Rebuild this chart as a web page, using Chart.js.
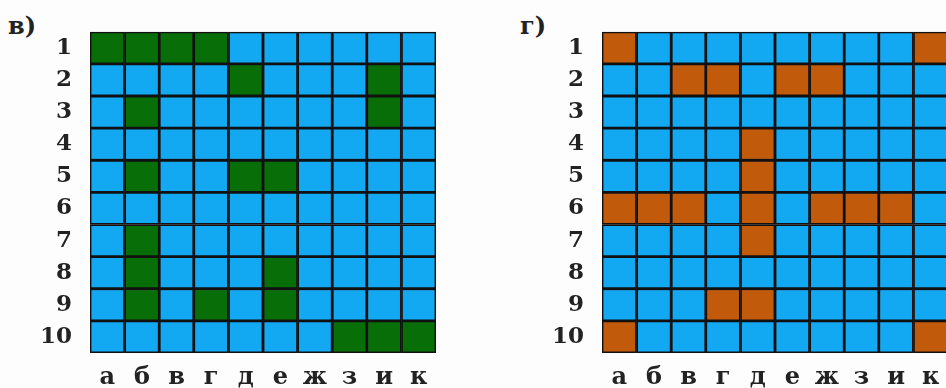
<!DOCTYPE html>
<html>
<head>
<meta charset="utf-8">
<script src="https://cdn.jsdelivr.net/npm/chart.js@4.4.0/dist/chart.umd.min.js"></script>
<style>
  body { margin: 0; width: 946px; height: 388px; overflow: hidden; background: #fdfdfd; position: relative; }
  canvas { position: absolute; top: 0; }
  .tag { position: absolute; font: bold 24px "DejaVu Serif", serif; color: #222; line-height: 28px; }
</style>
</head>
<body>
<div class="tag" style="left:8px;top:12px">в)</div>
<canvas id="chartV" width="446" height="388" style="left:0px"></canvas>
<div class="tag" style="left:520px;top:12px">г)</div>
<canvas id="chartG" width="446" height="388" style="left:512px"></canvas>
<script>
const letters = ['а', 'б', 'в', 'г', 'д', 'е', 'ж', 'з', 'и', 'к'];
const rows = [1, 2, 3, 4, 5, 6, 7, 8, 9, 10];
// 1 = закрашенная клетка, по строкам 1..10
const cellsV = [
  '1111000000',
  '0000100010',
  '0100000010',
  '0000000000',
  '0100110000',
  '0000000000',
  '0100000000',
  '0100010000',
  '0101010000',
  '0000000111'
];
const cellsG = [
  '1000000001',
  '0011011000',
  '0000000000',
  '0000100000',
  '0000100000',
  '1110101110',
  '0000100000',
  '0000000000',
  '0001100000',
  '1000000001'
];

const blue = '#12a8f2';
const green = '#086e08';
const orange = '#c25a0c';

function makeChart(id, cells, color, top) {
  const datasets = rows.map((r, i) => ({
    label: 'ряд ' + r,
    data: letters.map(() => [r - 0.5, r + 0.5]),
    backgroundColor: letters.map((l, j) => cells[i][j] === '1' ? color : blue),
    borderColor: '#111',
    borderWidth: 1.75,
    borderSkipped: false,
    grouped: false,
    barPercentage: 1,
    categoryPercentage: 1
  }));

  return new Chart(document.getElementById(id), {
    type: 'bar',
    data: { labels: letters, datasets: datasets },
    options: {
      responsive: false,
      animation: false,
      layout: { padding: { top: top, right: 10, left: 0, bottom: 0 } },
      plugins: { legend: { display: false }, tooltip: { enabled: false } },
      scales: {
        x: {
          grid: { display: false, drawTicks: false },
          border: { display: false },
          ticks: { color: '#222', padding: 10, font: { family: 'DejaVu Serif', size: 24, weight: 'bold' } },
          afterFit: s => { s.height = 388 - 353; }
        },
        y: {
          min: 0.5,
          max: 10.5,
          reverse: true,
          grid: { display: false, drawTicks: false },
          border: { display: false },
          afterBuildTicks: s => { s.ticks = rows.map(v => ({ value: v })); },
          ticks: { color: '#222', padding: 18, autoSkip: false, font: { family: 'DejaVu Serif', size: 23, weight: 'bold' } },
          afterFit: s => { s.width = 90; }
        }
      }
    }
  });
}

window.chartV = makeChart('chartV', cellsV, green, 9);
window.chartG = makeChart('chartG', cellsG, orange, 8);
</script>
</body>
</html>
